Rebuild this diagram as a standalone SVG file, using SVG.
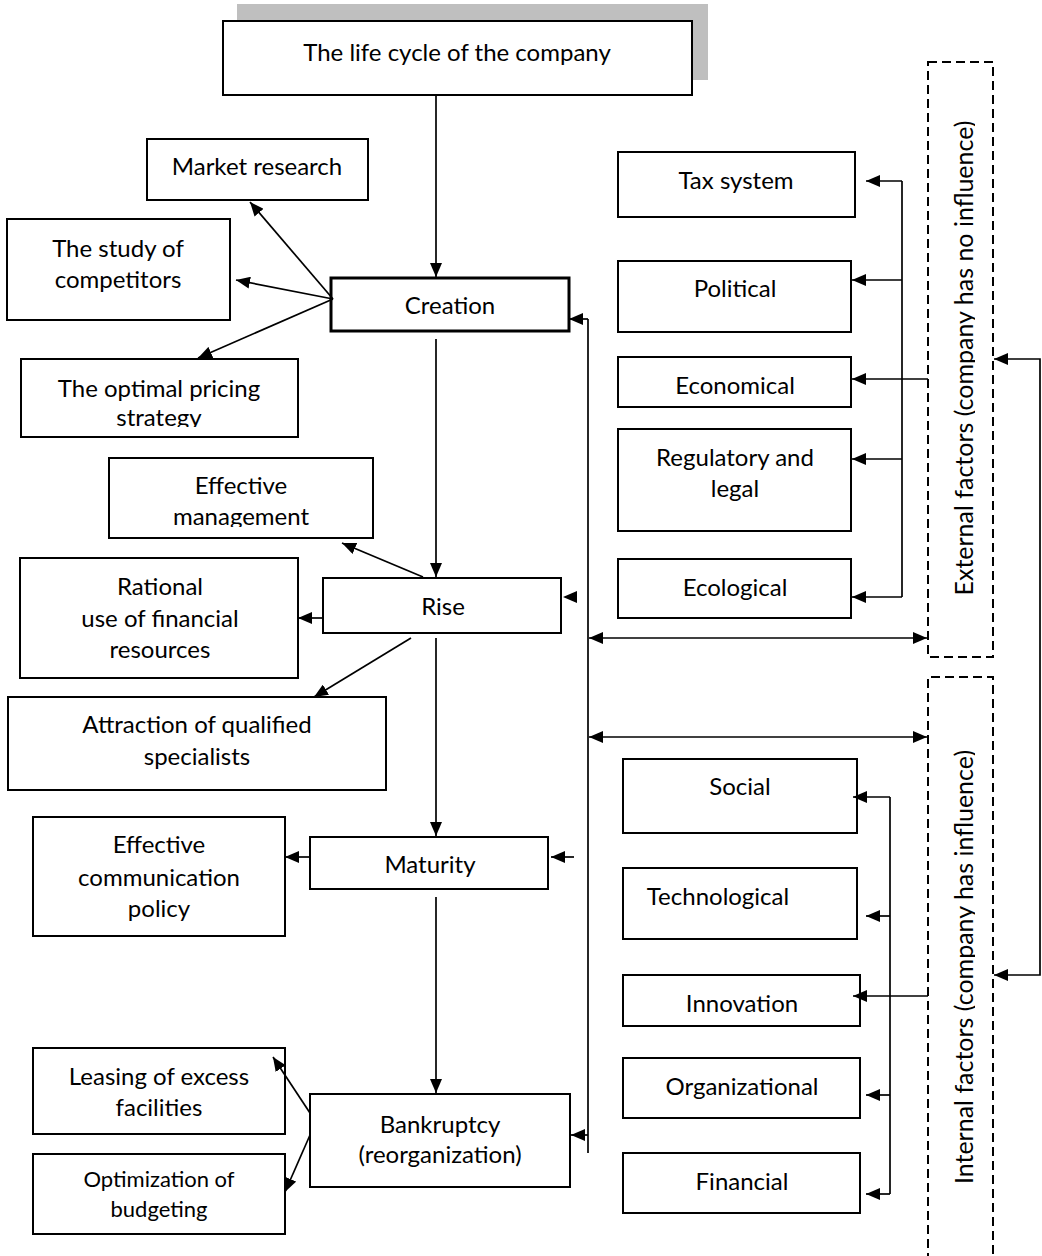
<svg xmlns="http://www.w3.org/2000/svg" width="1042" height="1256" viewBox="0 0 1042 1256">
  <style>
    .box { fill: #ffffff; stroke: #000000; stroke-width: 2; }
    .thick { stroke-width: 3; }
    .lbl { font-family: Lato, "Open Sans", sans-serif; font-size: 24px; fill: #000000; text-anchor: middle; }
    .small { font-size: 22px; }
    .side { font-size: 25px; }
    .dash { fill: none; stroke: #000000; stroke-width: 2; stroke-dasharray: 9 5; }
    .conn { fill: none; stroke: #000000; stroke-width: 1.7; }
    .arr { marker-end: url(#ah); }
    .both { marker-start: url(#ah); marker-end: url(#ah); }
  </style>
  <defs>
    <marker id="ah" viewBox="0 0 14 12" refX="14" refY="6" markerWidth="14" markerHeight="12" markerUnits="userSpaceOnUse" orient="auto-start-reverse">
      <path d="M0,0 L14,6 L0,12 Z" fill="#000000"/>
    </marker>
    <clipPath id="clipPricing"><rect x="21" y="359" width="277" height="68"/></clipPath>
    <clipPath id="clipMgmt"><rect x="109" y="458" width="264" height="69"/></clipPath>
    <clipPath id="clipSide"><rect x="930" y="0" width="45" height="1256"/></clipPath>
  </defs>

  <rect width="1042" height="1256" fill="#ffffff"/>

  <!-- Title -->
  <g id="title">
    <rect x="237" y="4" width="471" height="76" fill="#bfbfbf"/>
    <rect class="box" x="223" y="21" width="469" height="74"/>
    <text class="lbl" x="457" y="61">The life cycle of the company</text>
  </g>

  <!-- Life cycle stages -->
  <g id="creation">
    <rect class="box thick" x="331" y="278" width="238" height="53"/>
    <text class="lbl" x="450" y="314">Creation</text>
  </g>
  <g id="rise">
    <rect class="box" x="323" y="578" width="238" height="55"/>
    <text class="lbl" x="443" y="615">Rise</text>
  </g>
  <g id="maturity">
    <rect class="box" x="310" y="837" width="238" height="52"/>
    <text class="lbl" x="430" y="873">Maturity</text>
  </g>
  <g id="bankruptcy">
    <rect class="box" x="310" y="1094" width="260" height="93"/>
    <text class="lbl" x="440" y="1133">Bankruptcy</text>
    <text class="lbl" x="440" y="1163">(reorganization)</text>
  </g>

  <!-- Measures for each stage -->
  <g id="market-research">
    <rect class="box" x="147" y="139" width="221" height="61"/>
    <text class="lbl" x="257" y="175">Market research</text>
  </g>
  <g id="competitors">
    <rect class="box" x="7" y="219" width="223" height="101"/>
    <text class="lbl" x="118" y="257">The study of</text>
    <text class="lbl" x="118" y="288">competitors</text>
  </g>
  <g id="pricing">
    <rect class="box" x="21" y="359" width="277" height="78"/>
    <g clip-path="url(#clipPricing)">
      <text class="lbl" x="159" y="397">The optimal pricing</text>
      <text class="lbl" x="159" y="426">strategy</text>
    </g>
  </g>
  <g id="management">
    <rect class="box" x="109" y="458" width="264" height="80"/>
    <g clip-path="url(#clipMgmt)">
      <text class="lbl" x="241" y="494">Effective</text>
      <text class="lbl" x="241" y="525">management</text>
    </g>
  </g>
  <g id="financial-resources">
    <rect class="box" x="20" y="558" width="278" height="120"/>
    <text class="lbl" x="160" y="595">Rational</text>
    <text class="lbl" x="160" y="627">use of financial</text>
    <text class="lbl" x="160" y="658">resources</text>
  </g>
  <g id="specialists">
    <rect class="box" x="8" y="697" width="378" height="93"/>
    <text class="lbl" x="197" y="733">Attraction of qualified</text>
    <text class="lbl" x="197" y="765">specialists</text>
  </g>
  <g id="communication">
    <rect class="box" x="33" y="817" width="252" height="119"/>
    <text class="lbl" x="159" y="853">Effective</text>
    <text class="lbl" x="159" y="886">communication</text>
    <text class="lbl" x="159" y="917">policy</text>
  </g>
  <g id="leasing">
    <rect class="box" x="33" y="1048" width="252" height="86"/>
    <text class="lbl" x="159" y="1085">Leasing of excess</text>
    <text class="lbl" x="159" y="1116">facilities</text>
  </g>
  <g id="budgeting">
    <rect class="box" x="33" y="1154" width="252" height="80"/>
    <text class="lbl small" x="159" y="1187">Optimization of</text>
    <text class="lbl small" x="159" y="1217">budgeting</text>
  </g>

  <!-- External factors -->
  <g id="tax">
    <rect class="box" x="618" y="152" width="237" height="65"/>
    <text class="lbl" x="736" y="189">Tax system</text>
  </g>
  <g id="political">
    <rect class="box" x="618" y="261" width="233" height="71"/>
    <text class="lbl" x="735" y="297">Political</text>
  </g>
  <g id="economical">
    <rect class="box" x="618" y="357" width="233" height="50"/>
    <text class="lbl" x="735" y="394">Economical</text>
  </g>
  <g id="regulatory">
    <rect class="box" x="618" y="429" width="233" height="102"/>
    <text class="lbl" x="735" y="466">Regulatory and</text>
    <text class="lbl" x="735" y="497">legal</text>
  </g>
  <g id="ecological">
    <rect class="box" x="618" y="559" width="233" height="59"/>
    <text class="lbl" x="735" y="596">Ecological</text>
  </g>
  <g id="external">
    <rect class="dash" x="928" y="62" width="65" height="595"/>
    <g clip-path="url(#clipSide)">
      <text class="lbl side" transform="translate(973,358) rotate(-90)" x="0" y="0">External factors (company has no influence)</text>
    </g>
  </g>

  <!-- Internal factors -->
  <g id="social">
    <rect class="box" x="623" y="759" width="234" height="74"/>
    <text class="lbl" x="740" y="795">Social</text>
  </g>
  <g id="technological">
    <rect class="box" x="623" y="868" width="234" height="71"/>
    <text class="lbl" x="718" y="905">Technological</text>
  </g>
  <g id="innovation">
    <rect class="box" x="623" y="975" width="237" height="51"/>
    <text class="lbl" x="742" y="1012">Innovation</text>
  </g>
  <g id="organizational">
    <rect class="box" x="623" y="1058" width="237" height="60"/>
    <text class="lbl" x="742" y="1095">Organizational</text>
  </g>
  <g id="financial">
    <rect class="box" x="623" y="1153" width="237" height="60"/>
    <text class="lbl" x="742" y="1190">Financial</text>
  </g>
  <g id="internal">
    <path class="dash" d="M928,1262 V677 H993 V1262"/>
    <g clip-path="url(#clipSide)">
      <text class="lbl side" transform="translate(973,967) rotate(-90)" x="0" y="0">Internal factors (company has influence)</text>
    </g>
  </g>

  <!-- Connectors -->
  <g id="connectors">
    <!-- main sequence -->
    <line class="conn arr" x1="436" y1="95" x2="436" y2="277"/>
    <line class="conn arr" x1="436" y1="339" x2="436" y2="577"/>
    <line class="conn arr" x1="436" y1="638" x2="436" y2="836"/>
    <line class="conn arr" x1="436" y1="897" x2="436" y2="1093"/>

    <!-- creation measures -->
    <line class="conn arr" x1="333" y1="299" x2="250" y2="202"/>
    <line class="conn arr" x1="333" y1="299" x2="236" y2="280"/>
    <line class="conn arr" x1="333" y1="299" x2="198" y2="358"/>

    <!-- rise measures -->
    <line class="conn arr" x1="423" y1="577" x2="342" y2="543"/>
    <line class="conn arr" x1="323" y1="618" x2="298" y2="618"/>
    <line class="conn arr" x1="411" y1="638" x2="314" y2="697"/>

    <!-- maturity and bankruptcy measures -->
    <line class="conn arr" x1="310" y1="857" x2="285" y2="857"/>
    <line class="conn arr" x1="310" y1="1113" x2="273" y2="1057"/>
    <line class="conn arr" x1="310" y1="1135" x2="285" y2="1192"/>

    <!-- factor bus on the right of the stages -->
    <line class="conn" x1="588" y1="319" x2="588" y2="1153"/>
    <line class="conn arr" x1="588" y1="319" x2="569" y2="319"/>
    <line class="conn arr" x1="588" y1="1135" x2="571" y2="1135"/>
    <polygon points="563,597 577,591 577,603" fill="#000000"/>
    <line class="conn arr" x1="574" y1="857" x2="551" y2="857"/>
    <line class="conn both" x1="589" y1="638" x2="927" y2="638"/>
    <line class="conn both" x1="589" y1="737" x2="927" y2="737"/>

    <!-- external factor bracket -->
    <line class="conn" x1="902" y1="181" x2="902" y2="597"/>
    <line class="conn arr" x1="902" y1="181" x2="866" y2="181"/>
    <line class="conn arr" x1="902" y1="280" x2="852" y2="280"/>
    <line class="conn arr" x1="902" y1="459" x2="852" y2="459"/>
    <line class="conn arr" x1="902" y1="597" x2="852" y2="597"/>
    <line class="conn arr" x1="928" y1="379" x2="852" y2="379"/>

    <!-- internal factor bracket -->
    <line class="conn" x1="890" y1="797" x2="890" y2="1194"/>
    <line class="conn arr" x1="890" y1="797" x2="853" y2="797"/>
    <line class="conn arr" x1="890" y1="916" x2="866" y2="916"/>
    <line class="conn arr" x1="890" y1="1095" x2="866" y2="1095"/>
    <line class="conn arr" x1="890" y1="1194" x2="866" y2="1194"/>
    <line class="conn arr" x1="928" y1="996" x2="853" y2="996"/>

    <!-- link between the two factor groups -->
    <path class="conn both" d="M994,359 H1040 V975 H994"/>
  </g>
</svg>
